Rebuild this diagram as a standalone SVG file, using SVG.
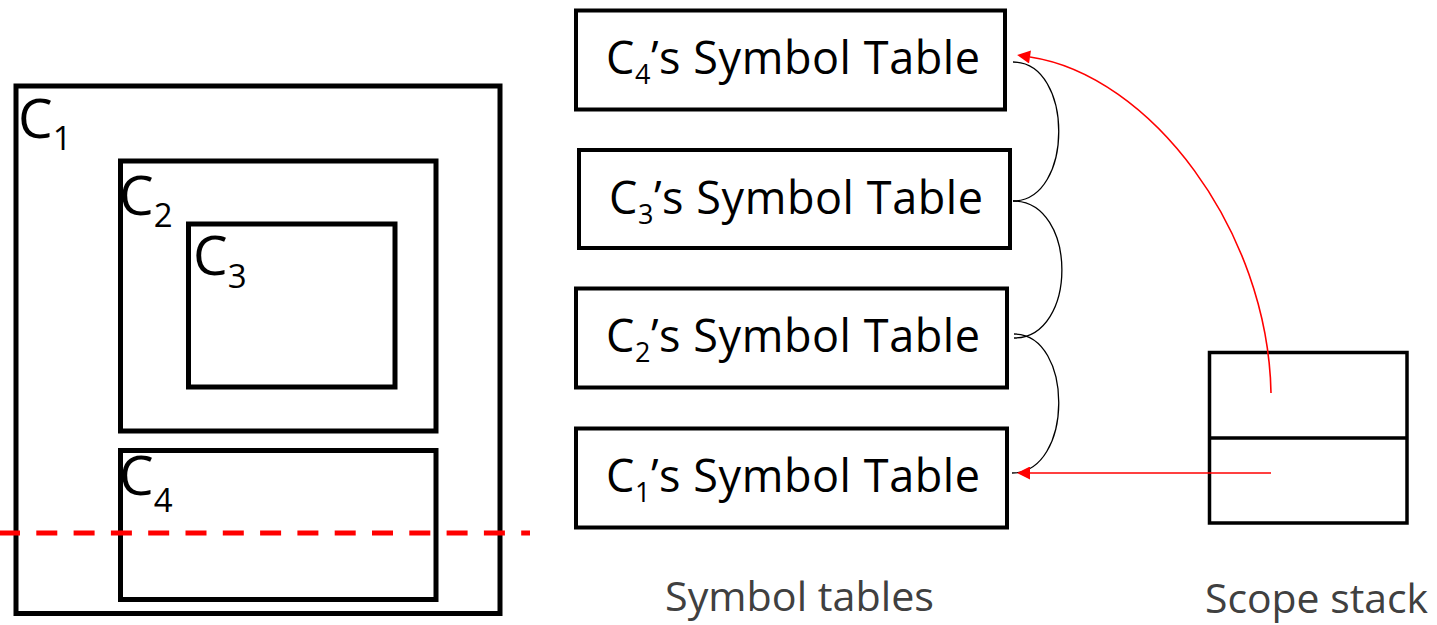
<svg xmlns="http://www.w3.org/2000/svg" width="1437" height="625" viewBox="0 0 1437 625">
<style>
.scope{fill:none;stroke:#000;stroke-width:5}
.tbl{fill:#fff;stroke:#000;stroke-width:4}
.lbl{font-family:"Open Sans","Noto Sans",sans-serif;font-size:55px;fill:#000}
.tt{font-family:"Open Sans","Noto Sans",sans-serif;font-size:45px;fill:#000}
.cap{font-family:"Open Sans","Noto Sans",sans-serif;font-size:41px;fill:#404040}
.link{fill:none;stroke:#000;stroke-width:1.3}
.red{fill:none;stroke:#ff0000;stroke-width:1.6}
</style>
<defs>
<marker id="ah" viewBox="0 0 10 10" refX="0" refY="5" markerUnits="userSpaceOnUse" markerWidth="17" markerHeight="13" orient="auto">
<path d="M0,0 L10,5 L0,10 z" fill="#ff0000"/>
</marker>
</defs>
<rect width="1437" height="625" fill="#fff"/>

<g id="c1">
<rect class="scope" x="16" y="86" width="484" height="527.5"/>
<text class="lbl" x="18" y="138">C<tspan font-size="33" dy="12">1</tspan></text>
</g>
<g id="c2">
<rect class="scope" x="120.5" y="161" width="315.5" height="270"/>
<text class="lbl" x="119" y="215">C<tspan font-size="33" dy="12">2</tspan></text>
</g>
<g id="c3">
<rect class="scope" x="188.5" y="224" width="206.5" height="163"/>
<text class="lbl" x="193" y="275">C<tspan font-size="33" dy="13">3</tspan></text>
</g>
<g id="c4">
<rect class="scope" x="120.5" y="450.5" width="315.5" height="149"/>
<text class="lbl" x="119" y="495">C<tspan font-size="33" dy="17">4</tspan></text>
</g>

<line id="cut" x1="-1" y1="533" x2="530" y2="533" stroke="#ff0000" stroke-width="5" stroke-dasharray="21 16.3"/>

<g id="st4">
<rect class="tbl" x="576" y="10.5" width="429" height="99"/>
<text class="tt" x="606" y="74" textLength="374">C<tspan font-size="27" dy="10">4</tspan><tspan dy="-10">’s Symbol Table</tspan></text>
</g>
<g id="st3">
<rect class="tbl" x="579" y="150" width="431" height="98"/>
<text class="tt" x="609" y="214" textLength="374">C<tspan font-size="27" dy="10">3</tspan><tspan dy="-10">’s Symbol Table</tspan></text>
</g>
<g id="st2">
<rect class="tbl" x="576" y="288.5" width="431" height="99"/>
<text class="tt" x="606" y="352" textLength="374">C<tspan font-size="27" dy="10">2</tspan><tspan dy="-10">’s Symbol Table</tspan></text>
</g>
<g id="st1">
<rect class="tbl" x="576" y="428.5" width="431" height="99"/>
<text class="tt" x="606" y="492" textLength="374">C<tspan font-size="27" dy="10">1</tspan><tspan dy="-10">’s Symbol Table</tspan></text>
</g>

<g id="stack">
<rect x="1209.5" y="352.5" width="197.5" height="170.5" fill="#fff" stroke="#000" stroke-width="3.5"/>
<line x1="1209.5" y1="438" x2="1407" y2="438" stroke="#000" stroke-width="3.5"/>
</g>

<text id="cap-tables" class="cap" x="665" y="611" textLength="269" lengthAdjust="spacingAndGlyphs">Symbol tables</text>
<text id="cap-stack" class="cap" x="1205" y="613" textLength="223" lengthAdjust="spacingAndGlyphs">Scope stack</text>

<g id="connectors">
<path class="link" d="M1013,62 C1074,62 1074,201 1013,201"/>
<path class="link" d="M1013,201 C1078,201 1078,338 1014,338"/>
<path class="link" d="M1014,334 C1074,334 1074,473 1012,473"/>
<path class="red" d="M1271,393 C1268,230 1150,75 1030,57" marker-end="url(#ah)"/>
<path class="red" d="M1271,473 L1030,473" marker-end="url(#ah)"/>
</g>
</svg>
